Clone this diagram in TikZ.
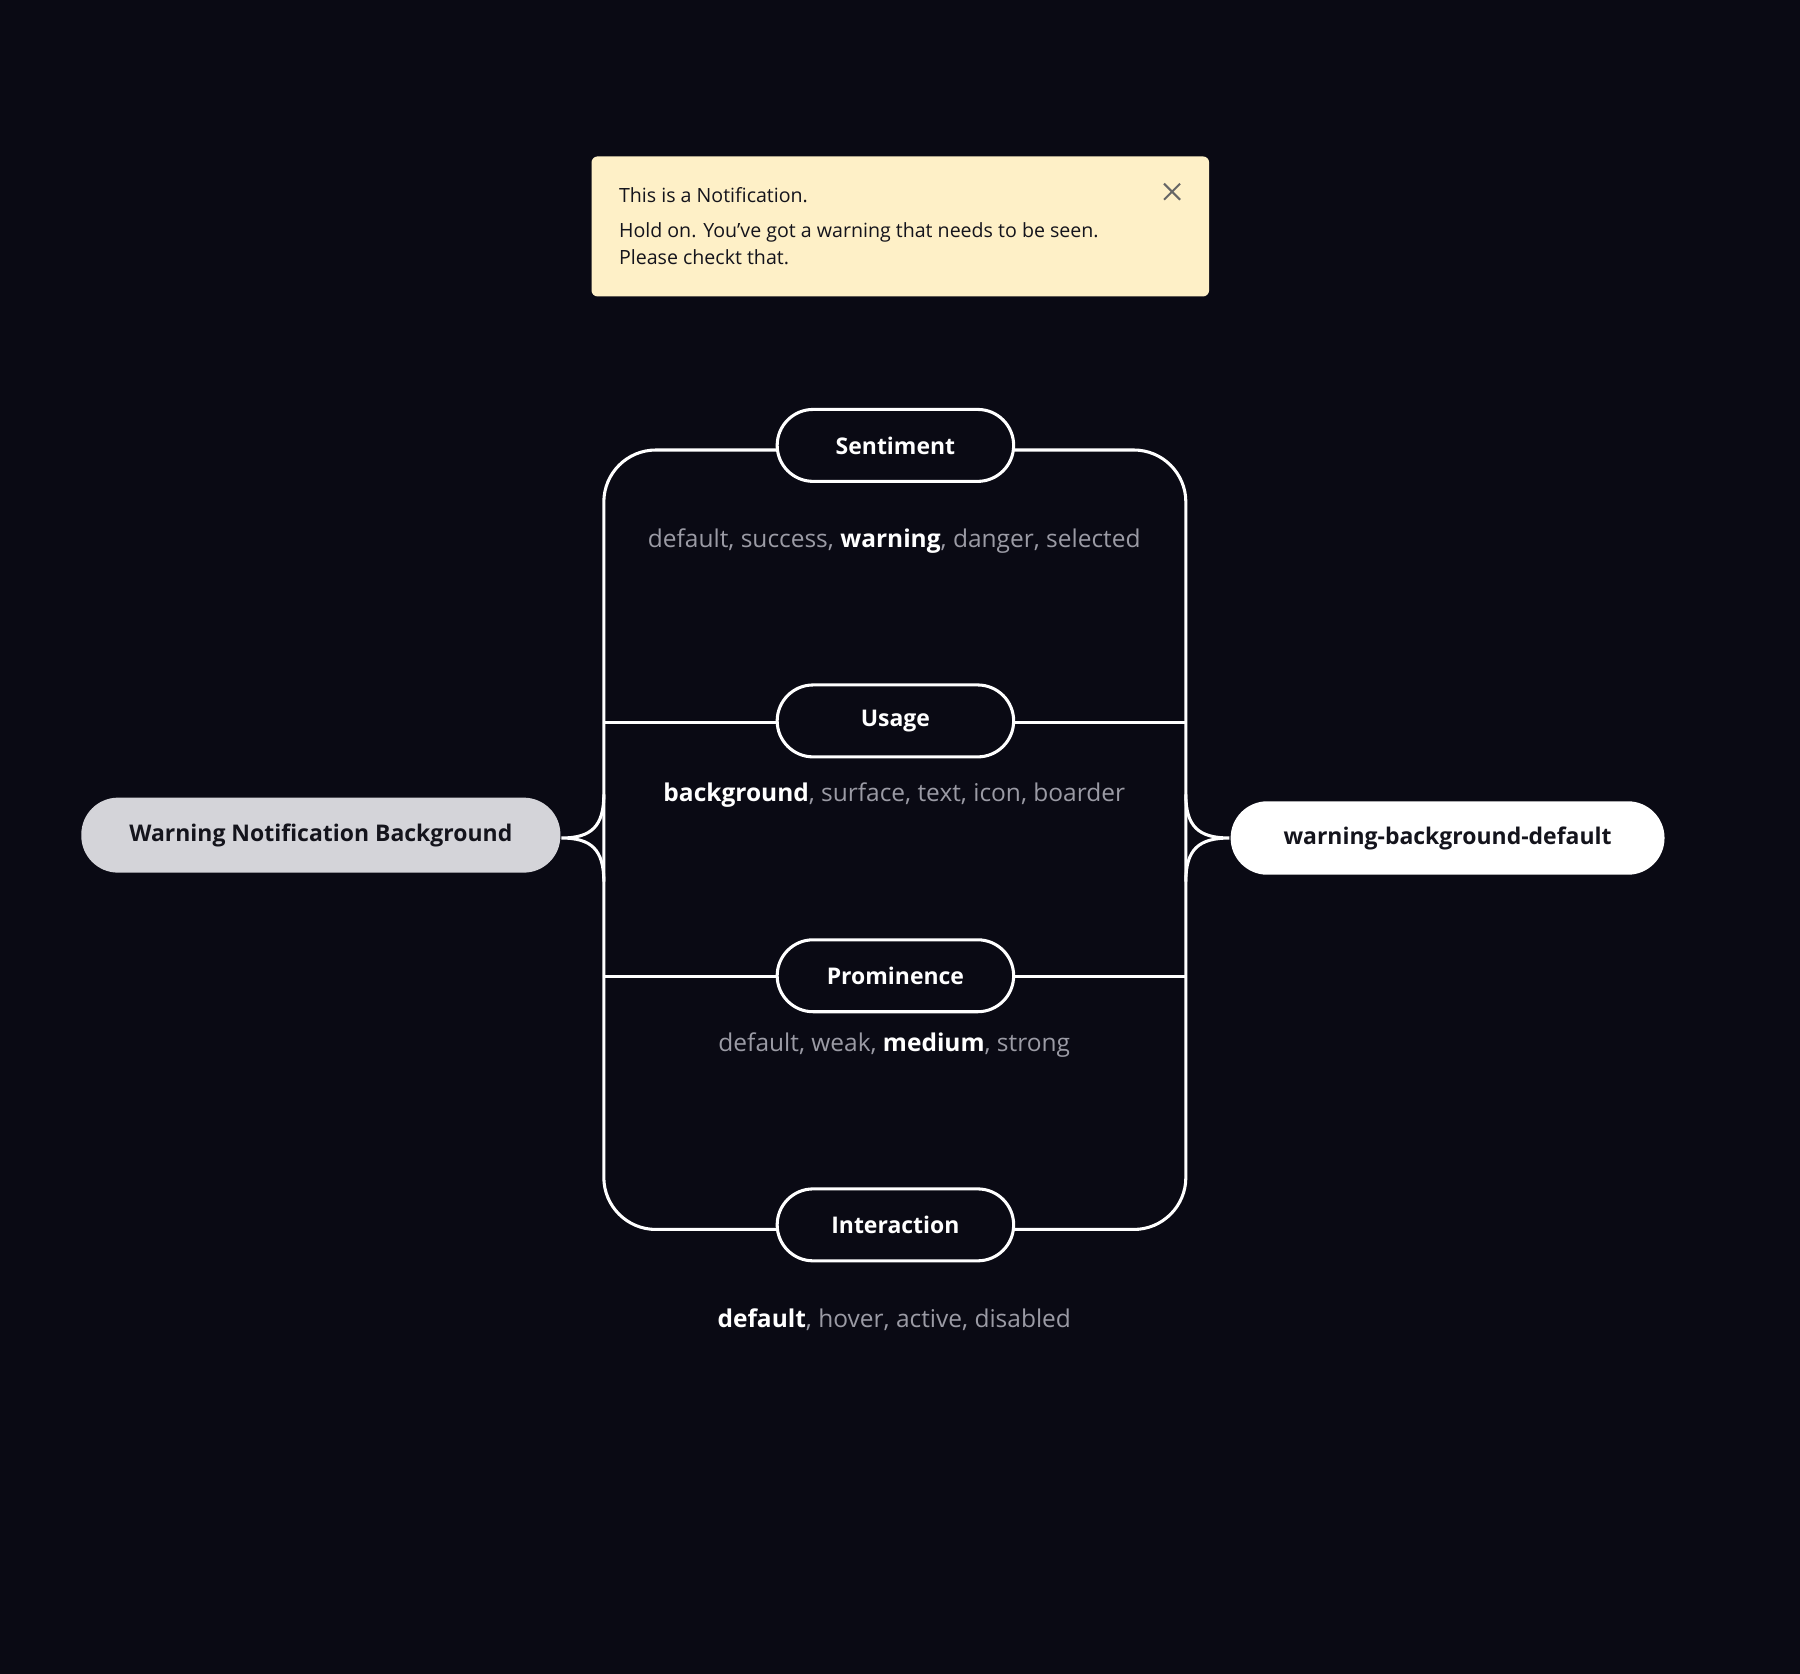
\documentclass[tikz,border=0pt]{standalone}
\usepackage{fontspec}
\setmainfont{Open Sans}
\definecolor{bg}{HTML}{0A0A14}
\definecolor{note}{HTML}{FEF0C7}
\definecolor{mute}{HTML}{9B9BA5}
\definecolor{lgray}{HTML}{D4D4D9}
\definecolor{ink}{HTML}{14141C}
\tikzset{
 pill/.style={draw=white,line width=2pt,fill=bg,rounded corners=23.5pt,minimum width=154.5pt,minimum height=47pt,inner sep=0pt,text=white,font=\fontsize{15}{18}\selectfont\bfseries},
 wire/.style={draw=white,line width=2pt},
 lab/.style={text=mute,font=\fontsize{16}{19}\selectfont},
 ntext/.style={anchor=base west,text=ink,font=\fontsize{12.8}{15}\selectfont,inner sep=0pt},
}
\newcommand{\hl}[1]{\textcolor{white}{\bfseries #1}}
\begin{document}
\begin{tikzpicture}[x=0.75pt,y=-0.75pt]
\fill[bg] (0,0) rectangle (1568,1458);
\useasboundingbox (0,0) rectangle (1568,1458);
% notification
\node[fill=note,rounded corners=4pt,minimum width=403.5pt,minimum height=91.5pt,inner sep=0pt,anchor=north west] (note) at (515,136) {};
\node[ntext] (t1) at (539,176) {This is a Notification.};
\node[ntext] (t2) at (539,207) {Hold on. You’ve got a warning that needs to be seen.};
\node[ntext] (t3) at (539,230) {Please checkt that.};
\draw[gray!80!black,line width=1.3pt] (1014,160) -- (1028,174) (1028,160) -- (1014,174);
% bracket
\draw[wire,rounded corners=34pt] (677,392) -- (526,392) -- (526,1071) -- (677,1071);
\draw[wire,rounded corners=34pt] (883,392) -- (1033,392) -- (1033,1071) -- (883,1071);
\draw[wire] (526,629) -- (677,629) (883,629) -- (1033,629);
\draw[wire] (526,851) -- (677,851) (883,851) -- (1033,851);
\draw[wire] (526,692) .. controls (526,720) and (515,730) .. (489,730) .. controls (515,730) and (526,740) .. (526,768);
\draw[wire] (1033,692) .. controls (1033,720) and (1044,730) .. (1071,730) .. controls (1044,730) and (1033,740) .. (1033,768);
% pills
\node[pill] (s) at (780,388) {Sentiment};
\node[pill] (u) at (780,628) {Usage};
\node[pill] (p) at (780,850) {Prominence};
\node[pill] (i) at (780,1067) {Interaction};
\node[fill=lgray,rounded corners=24pt,minimum width=313pt,minimum height=49pt,inner sep=0pt,text=ink,font=\fontsize{15}{18}\selectfont\bfseries] (L) at (279.5,727.5) {Warning Notification Background};
\node[fill=white,rounded corners=24pt,minimum width=283.5pt,minimum height=48pt,inner sep=0pt,text=ink,font=\fontsize{15}{18}\selectfont\bfseries] (R) at (1261,730) {warning-background-default};
% labels
\node[lab] (ls) at (779,471) {default, success, \hl{warning}, danger, selected};
\node[lab] (lu) at (779,693) {\hl{background}, surface, text, icon, boarder};
\node[lab] (lp) at (779,910) {default, weak, \hl{medium}, strong};
\node[lab] (li) at (779,1150) {\hl{default}, hover, active, disabled};
\end{tikzpicture}
\end{document}
